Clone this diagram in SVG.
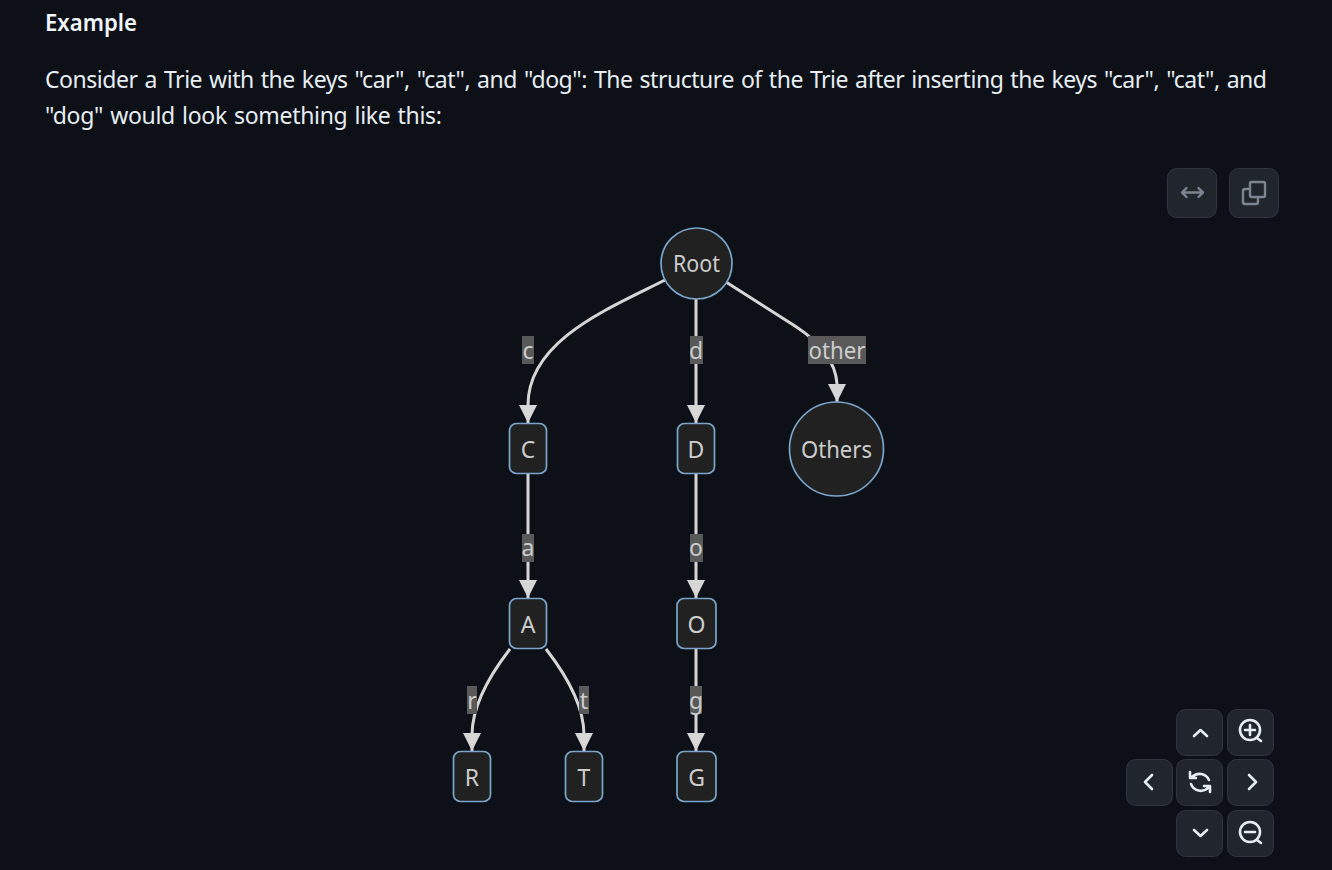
<svg xmlns="http://www.w3.org/2000/svg" width="1332" height="870" viewBox="0 0 1332 870">
<style>
.p{font-family:"Noto Sans","Open Sans",sans-serif;font-size:23px;word-spacing:1.5px;fill:#e6edf3}
.h{font-family:"Noto Sans","Open Sans",sans-serif;font-size:22.5px;font-weight:600;fill:#f0f6fc}
.n{fill:#212121;stroke:#7aa5cc;stroke-width:1.7}
.t{font-family:"Noto Sans","DejaVu Sans",sans-serif;font-size:23px;fill:#ccc;text-anchor:middle}
.e{fill:none;stroke:#d6d6d6;stroke-width:3}
.l{fill:#595959}
.b{fill:#21262d;stroke:#2f353d;stroke-width:1}
.i{fill:none;stroke:#7d8590;stroke-width:2.4;stroke-linecap:round;stroke-linejoin:round}
.w{fill:none;stroke:#e6edf3;stroke-width:2.6;stroke-linecap:round;stroke-linejoin:round}
</style>
<defs><marker id="a" markerUnits="userSpaceOnUse" markerWidth="20" markerHeight="20" refX="18" refY="9" orient="auto"><path d="M0 0L18 9L0 18Z" fill="#d6d6d6"/></marker></defs>
<rect width="1332" height="870" fill="#0d1117"/>
<text class="h" x="45" y="31" textLength="92" lengthAdjust="spacingAndGlyphs">Example</text>
<text class="p" x="45" y="88" textLength="1222" lengthAdjust="spacing">Consider a Trie with the keys "car", "cat", and "dog": The structure of the Trie after inserting the keys "car", "cat", and</text>
<text class="p" x="45" y="124" textLength="397" lengthAdjust="spacing">"dog" would look something like this:</text>
<g id="connectors">
<path class="e" marker-end="url(#a)" d="M665 280C610 308 528 340 528 405V423"/>
<path class="e" marker-end="url(#a)" d="M696 299V423"/>
<path class="e" marker-end="url(#a)" d="M726 282L795 326Q835 352 837 384V402"/>
<path class="e" marker-end="url(#a)" d="M528 474V598"/>
<path class="e" marker-end="url(#a)" d="M696 474V598"/>
<path class="e" marker-end="url(#a)" d="M510 649Q472 698 472 735V751"/>
<path class="e" marker-end="url(#a)" d="M546 649Q584 698 584 735V751"/>
<path class="e" marker-end="url(#a)" d="M696 649V751"/>
</g>
<g id="edge-labels">
<g><rect class="l" x="522" y="336" width="12" height="28"/><text class="t" x="528" y="359">c</text></g>
<g><rect class="l" x="690" y="336" width="13" height="28"/><text class="t" x="696" y="359">d</text></g>
<g><rect class="l" x="808" y="336" width="58" height="28"/><text class="t" x="837" y="359" textLength="57" lengthAdjust="spacingAndGlyphs">other</text></g>
<g><rect class="l" x="522" y="534" width="12" height="28"/><text class="t" x="528" y="556">a</text></g>
<g><rect class="l" x="690" y="534" width="13" height="28"/><text class="t" x="696" y="556">o</text></g>
<g><rect class="l" x="467" y="686" width="10" height="28"/><text class="t" x="472" y="709">r</text></g>
<g><rect class="l" x="579" y="686" width="10" height="28"/><text class="t" x="584" y="709">t</text></g>
<g><rect class="l" x="690" y="686" width="12" height="28"/><text class="t" x="696" y="709">g</text></g>
</g>
<g id="Root"><circle class="n" cx="696.500" cy="263.500" r="35.500"/><text class="t" x="696.500" y="272" textLength="47" lengthAdjust="spacingAndGlyphs">Root</text></g>
<g id="C"><rect class="n" x="509.500" y="423.500" width="37" height="50" rx="7"/><text class="t" x="528" y="458">C</text></g>
<g id="D"><rect class="n" x="677.500" y="423.500" width="37" height="50" rx="7"/><text class="t" x="696" y="458">D</text></g>
<g id="Others"><circle class="n" cx="836.500" cy="449" r="47"/><text class="t" x="836.500" y="458" textLength="71" lengthAdjust="spacingAndGlyphs">Others</text></g>
<g id="A"><rect class="n" x="509.500" y="598.500" width="37" height="50" rx="7"/><text class="t" x="528" y="633">A</text></g>
<g id="O"><rect class="n" x="677" y="598.500" width="39" height="50" rx="7"/><text class="t" x="696.500" y="633">O</text></g>
<g id="R"><rect class="n" x="453.500" y="751.500" width="37" height="50" rx="7"/><text class="t" x="472" y="786">R</text></g>
<g id="T"><rect class="n" x="565.500" y="751.500" width="37" height="50" rx="7"/><text class="t" x="584" y="786">T</text></g>
<g id="G"><rect class="n" x="677" y="751.500" width="39" height="50" rx="7"/><text class="t" x="696.500" y="786">G</text></g>
<g id="controls">
<rect class="b" x="1167.500" y="168.500" width="49" height="49" rx="9"/>
<path class="i" d="M1182 192.500H1203M1186.500 188L1182 192.500L1186.500 197M1198.500 188L1203 192.500L1198.500 197"/>
<rect class="b" x="1229.500" y="168.500" width="49" height="49" rx="9"/>
<rect class="i" x="1250" y="182" width="15" height="15" rx="1.500"/>
<path class="i" d="M1248 189H1245Q1243 189 1243 191V202Q1243 204 1245 204H1256Q1258 204 1258 202V198"/>
<rect class="b" x="1176.500" y="709.500" width="46" height="46" rx="9"/>
<path class="w" d="M1194 736L1200.500 730L1207 736"/>
<rect class="b" x="1227.500" y="709.500" width="46" height="46" rx="9"/>
<circle class="w" cx="1250" cy="730" r="10"/><path class="w" d="M1245 730H1255M1250 725V735M1257 738L1261 741"/>
<rect class="b" x="1126.500" y="759.500" width="46" height="46" rx="9"/>
<path class="w" d="M1152 775L1145 782L1152 789"/>
<rect class="b" x="1176.500" y="759.500" width="46" height="46" rx="9"/>
<path class="w" d="M1192 777A10.500 10.500 0 0 1 1209 780M1191 784A10.500 10.500 0 0 0 1208 788M1190 772V778H1196M1210 792V786H1204"/>
<rect class="b" x="1227.500" y="759.500" width="46" height="46" rx="9"/>
<path class="w" d="M1249 775L1256 782L1249 789"/>
<rect class="b" x="1176.500" y="810.500" width="46" height="46" rx="9"/>
<path class="w" d="M1194 830L1200.500 836L1207 830"/>
<rect class="b" x="1227.500" y="810.500" width="46" height="46" rx="9"/>
<circle class="w" cx="1250" cy="832" r="10"/><path class="w" d="M1245 832H1255M1257 840L1261 843"/>
</g>
</svg>
